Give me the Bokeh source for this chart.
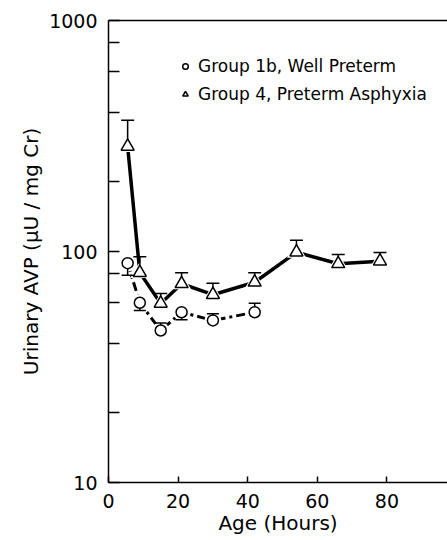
from bokeh.plotting import figure
from bokeh.models import Range1d, FixedTicker, LinearAxis, Legend, LegendItem, PrintfTickFormatter
from bokeh.embed import file_html
from bokeh.resources import INLINE

# ---- data ----
hours_g1b = [5.5, 9, 15, 21, 30, 42]
avp_g1b = [89, 60, 45.5, 54.6, 50.3, 54.6]
bar_end_g1b = [79, 55.5, 49, 50.6, 53.8, 59.7]

hours_g4 = [5.5, 9, 15, 21, 30, 42, 54, 66, 78]
avp_g4 = [285, 81, 59.6, 72.5, 65, 73.6, 99.3, 88.5, 90.8]
bar_end_g4 = [370, 95, 65.8, 81, 72.9, 81, 112, 97, 99]

x_ticks = [0, 20, 40, 60, 80]
y_ticks = [10, 100, 1000]
y_minor_ticks = [20, 40, 60, 80, 200, 400, 600, 800]

label_g1b = "Group 1b, Well Preterm"
label_g4 = "Group 4, Preterm Asphyxia"

FONT = "DejaVu Sans"

p = figure(width=447, height=540, x_range=Range1d(0, 97.4), y_range=Range1d(10, 1000),
           y_axis_type="log", output_backend="svg", toolbar_location=None,
           min_border_left=108, min_border_right=0, min_border_top=20, min_border_bottom=58)
p.outline_line_color = None
p.grid.visible = False
p.background_fill_color = "white"
p.border_fill_color = "white"

# axes
xa = p.xaxis[0]
xa.ticker = FixedTicker(ticks=x_ticks)
xa.major_tick_in = 6
xa.major_tick_out = 0
xa.minor_tick_line_color = None
xa.axis_line_width = 1.5
xa.major_tick_line_width = 1.5
xa.major_label_text_font = FONT
xa.major_label_text_font_size = "19px"
xa.major_label_text_color = "black"
xa.major_label_standoff = 11
xa.axis_label = "Age (Hours)"
xa.axis_label_text_font = FONT
xa.axis_label_text_font_size = "20px"
xa.axis_label_text_font_style = "normal"
xa.axis_label_text_color = "black"
xa.axis_label_standoff = 0

ya = p.yaxis[0]
ya.ticker = FixedTicker(ticks=y_ticks, minor_ticks=y_minor_ticks)
ya.formatter = PrintfTickFormatter(format="%d")
ya.major_tick_in = 11
ya.major_tick_out = 0
ya.minor_tick_in = 11
ya.minor_tick_out = 0
ya.axis_line_width = 1.5
ya.major_tick_line_width = 1.5
ya.minor_tick_line_width = 1.5
ya.major_label_text_font = FONT
ya.major_label_text_font_size = "19px"
ya.major_label_text_color = "black"
ya.major_label_standoff = 11
ya.axis_label = "Urinary AVP (\u03bcU / mg Cr)"
ya.axis_label_text_font = FONT
ya.axis_label_text_font_size = "20px"
ya.axis_label_text_font_style = "normal"
ya.axis_label_text_color = "black"
ya.axis_label_standoff = 3

top = LinearAxis(ticker=FixedTicker(ticks=[]), major_label_text_font_size="0px",
                 major_tick_line_color=None, minor_tick_line_color=None, axis_line_width=1.5)
p.add_layout(top, "above")

# connecting lines
p.line(hours_g4, avp_g4, line_color="black", line_width=3.5)
p.line(hours_g1b, avp_g1b, line_color="black", line_width=3, line_dash="9 4 3 4")

# white halos around markers (gap between line and marker)
p.scatter(hours_g4, avp_g4, marker="triangle", size=19, fill_color="white", line_color=None)
p.scatter(hours_g1b, avp_g1b, marker="circle", size=17, fill_color="white", line_color=None)

# error bars
p.segment(x0=hours_g4, y0=avp_g4, x1=hours_g4, y1=bar_end_g4, line_color="black", line_width=1.5)
p.scatter(hours_g4, bar_end_g4, marker="dash", size=13, line_color="black", line_width=1.5)
p.segment(x0=hours_g1b, y0=avp_g1b, x1=hours_g1b, y1=bar_end_g1b, line_color="black", line_width=1.5)
p.scatter(hours_g1b, bar_end_g1b, marker="dash", size=12, line_color="black", line_width=1.5)

# markers
r4 = p.scatter(hours_g4, avp_g4, marker="triangle", size=13, fill_color="white",
               line_color="black", line_width=1.5)
r1 = p.scatter(hours_g1b, avp_g1b, marker="circle", size=11, fill_color="white",
               line_color="black", line_width=1.5)

legend = Legend(items=[LegendItem(label=label_g1b, renderers=[r1]),
                       LegendItem(label=label_g4, renderers=[r4])],
                location=(70, 378), border_line_color=None, background_fill_alpha=0,
                padding=0, spacing=8, glyph_width=14, glyph_height=14, label_height=20,
                label_standoff=6, label_text_font=FONT, label_text_font_size="17px",
                label_text_color="black")
p.add_layout(legend)

open("out.html", "w").write(file_html(p, INLINE))
